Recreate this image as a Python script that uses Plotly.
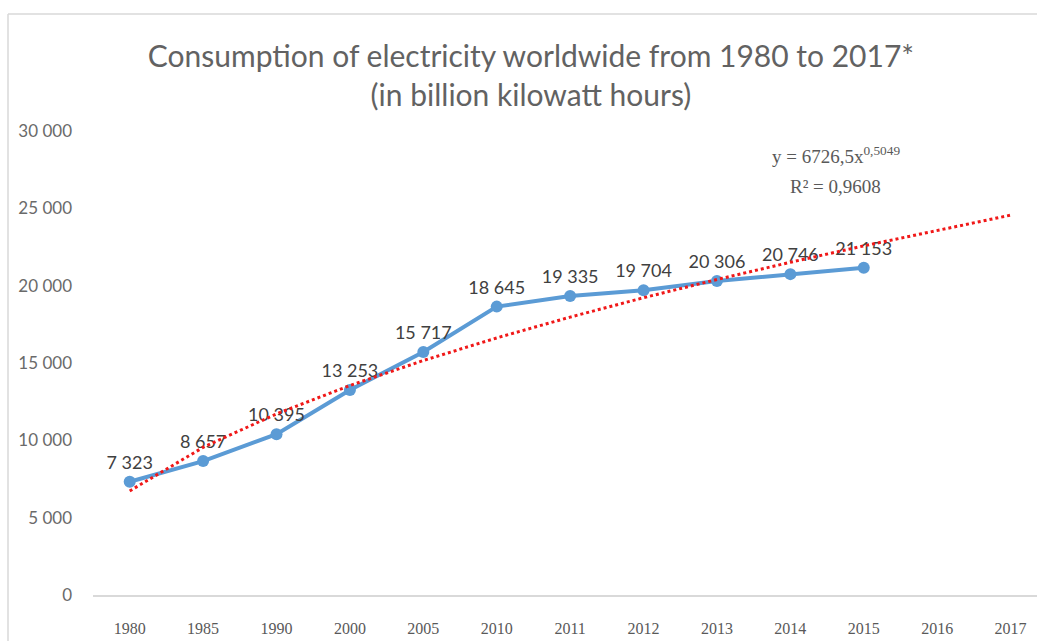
import plotly.graph_objects as go

# Worldwide electricity consumption, billion kWh
years = ["1980", "1985", "1990", "2000", "2005", "2010", "2011", "2012",
         "2013", "2014", "2015", "2016", "2017"]
consumption = [7323, 8657, 10395, 13253, 15717, 18645, 19335, 19704,
               20306, 20746, 21153]

# Power trendline y = a * x^b over category index x = 1..n
trend_a = 6726.5
trend_b = 0.5049
trend_r2 = 0.9608

y_ticks = [0, 5000, 10000, 15000, 20000, 25000, 30000]


def fmt_thousands(v):
    return f"{v:,}".replace(",", " ")


def fmt_dec(v):
    return f"{v}".replace(".", ",")


trend_y = [trend_a * (i + 1) ** trend_b for i in range(len(years))]

fig = go.Figure()

fig.add_trace(go.Scatter(
    x=years[:len(consumption)],
    y=consumption,
    mode="lines+markers+text",
    line=dict(color="#5b9bd5", width=4),
    marker=dict(color="#5b9bd5", size=12),
    text=[fmt_thousands(v) for v in consumption],
    textposition="top center",
    textfont=dict(family="Lato, Open Sans, sans-serif", size=18, color="#404040"),
    cliponaxis=False,
    showlegend=False,
))

fig.add_trace(go.Scatter(
    x=years,
    y=trend_y,
    mode="lines",
    line=dict(color="#f01818", width=3, dash="dot"),
    showlegend=False,
))

eq_font = dict(family="Liberation Serif, serif", size=19, color="#595959")
fig.add_annotation(
    x=0.787, y=(595 - 155) / 464, xref="paper", yref="paper",
    text=f"y = {fmt_dec(trend_a)}x<sup>{fmt_dec(trend_b)}</sup>",
    showarrow=False, xanchor="center", yanchor="middle", font=eq_font,
)
fig.add_annotation(
    x=0.787, y=(595 - 186) / 464, xref="paper", yref="paper",
    text=f"R\u00b2 = {fmt_dec(trend_r2)}",
    showarrow=False, xanchor="center", yanchor="middle", font=eq_font,
)

fig.update_layout(
    width=1037, height=641,
    margin=dict(l=93, r=0, t=131, b=46),
    paper_bgcolor="white",
    plot_bgcolor="white",
    title=dict(
        text="Consumption of electricity worldwide from 1980 to 2017*<br>(in billion kilowatt hours)",
        x=0.512, xanchor="center", xref="container",
        y=1 - 67 / 641, yanchor="middle", yref="container",
        font=dict(family="Lato, Open Sans, sans-serif", size=30, color="#626262"),
    ),
    xaxis=dict(
        type="category",
        categoryorder="array",
        categoryarray=years,
        range=[-0.5, 12.36],
        showgrid=False,
        showline=True,
        linecolor="#d9d9d9",
        linewidth=1.5,
        ticks="",
        ticklabelstandoff=18,
        tickfont=dict(family="Liberation Serif, serif", size=16, color="#595959"),
        zeroline=False,
    ),
    yaxis=dict(
        range=[0, 30000],
        tickvals=y_ticks,
        ticktext=[fmt_thousands(v) for v in y_ticks],
        showgrid=False,
        zeroline=False,
        showline=False,
        ticks="",
        ticklabelstandoff=20,
        tickfont=dict(family="Lato, Open Sans, sans-serif", size=17, color="#6a6a6a"),
    ),
    shapes=[
        dict(type="line", xref="paper", yref="paper",
             x0=(8 - 93) / 944, x1=1.0, y0=(595 - 14) / 464, y1=(595 - 14) / 464,
             line=dict(color="#d9d9d9", width=1.5)),
        dict(type="line", xref="paper", yref="paper",
             x0=(8 - 93) / 944, x1=(8 - 93) / 944, y0=(595 - 641) / 464, y1=(595 - 14) / 464,
             line=dict(color="#d9d9d9", width=1.5)),
    ],
)

fig.write_html("out.html")
